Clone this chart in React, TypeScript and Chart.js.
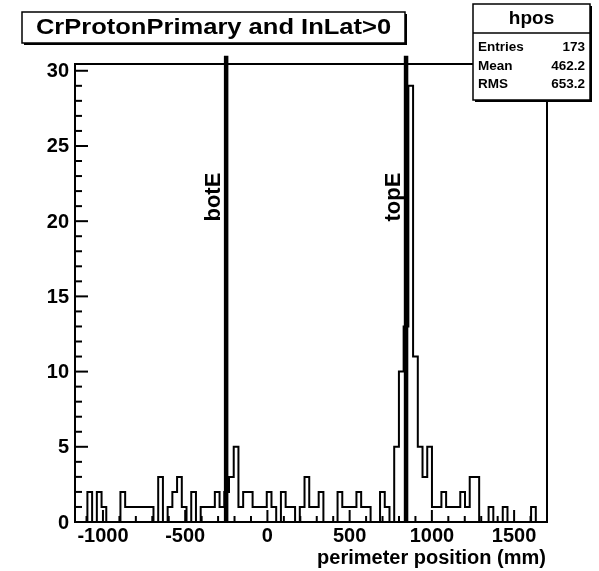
import { useEffect, useRef } from 'react';
import { Chart, registerables } from 'chart.js';

Chart.register(...registerables);

// Visible perimeter range of the axis (mm)
const X_MIN = -1170;
const X_MAX = 1700;
// Histogram "hpos": 100 equal bins
const HIST_MIN = -1152;
const HIST_MAX = 1718;
const BIN_COUNTS = [
  0, 0, 0, 2, 0, 2, 1, 0, 0, 0,
  2, 1, 1, 1, 1, 1, 1, 0, 3, 0,
  1, 2, 3, 1, 0, 2, 0, 1, 1, 1,
  2, 1, 2, 3, 5, 1, 2, 2, 1, 1,
  1, 2, 1, 0, 2, 1, 1, 0, 1, 3,
  1, 1, 2, 0, 0, 0, 2, 1, 1, 1,
  2, 1, 1, 0, 0, 2, 1, 0, 5, 10,
  13, 29, 11, 5, 3, 5, 1, 1, 2, 1,
  1, 1, 2, 1, 3, 3, 0, 0, 1, 0,
  0, 1, 0, 0, 0, 0, 0, 1, 0, 0,
];
const Y_MAX = 30.45;

const X_MAJOR_TICKS = [-1000, -500, 0, 500, 1000, 1500];
const X_MINOR_STEP = 100;
const Y_MAJOR_TICKS = [0, 5, 10, 15, 20, 25, 30];
const Y_MINOR_STEP = 1;

// Vertical reference lines (position in mm), drawn from 0 up to MARKER_TOP
const MARKER_NAMES = ['botE', 'topE'];
const MARKER_POSITIONS = [-251, 843];
const MARKER_TOP = 31;

const TITLE = 'CrProtonPrimary and InLat>0';
const X_TITLE = 'perimeter position (mm)';
const STATS_NAME = 'hpos';
const STATS_LABELS = ['Entries', 'Mean', 'RMS'];
const STATS_VALUES = ['173', '462.2', '653.2'];

const FONT = '"Liberation Sans", Arial, Helvetica, sans-serif';

function histogramPoints() {
  const n = BIN_COUNTS.length;
  const w = (HIST_MAX - HIST_MIN) / n;
  const pts: { x: number; y: number }[] = [{ x: HIST_MIN, y: 0 }];
  BIN_COUNTS.forEach((c, i) => pts.push({ x: HIST_MIN + i * w, y: c }));
  pts.push({ x: HIST_MAX, y: BIN_COUNTS[n - 1] });
  pts.push({ x: HIST_MAX, y: 0 });
  return pts;
}

function text(
  ctx: CanvasRenderingContext2D,
  s: string,
  x: number,
  y: number,
  size: number,
  align: CanvasTextAlign,
  stretch = 1,
) {
  ctx.save();
  ctx.translate(x, y);
  ctx.scale(stretch, 1);
  ctx.font = `bold ${size}px ${FONT}`;
  ctx.textAlign = align;
  ctx.textBaseline = 'middle';
  ctx.fillStyle = '#000';
  ctx.fillText(s, 0, 0);
  ctx.restore();
}

function shadowBox(ctx: CanvasRenderingContext2D, x: number, y: number, w: number, h: number) {
  ctx.fillStyle = '#000';
  ctx.fillRect(x + 2, y + 2, w, h);
  ctx.fillStyle = '#fff';
  ctx.fillRect(x, y, w, h);
  ctx.strokeStyle = '#000';
  ctx.lineWidth = 1.5;
  ctx.strokeRect(x, y, w, h);
}

const rootFramePlugin = {
  id: 'rootFrame',
  afterDatasetsDraw(chart: Chart) {
    const ctx = chart.ctx;
    const { left, right, top, bottom } = chart.chartArea;
    const xs = chart.scales.x;
    const ys = chart.scales.y;
    ctx.save();

    // reference lines and their labels
    MARKER_POSITIONS.forEach((pos, i) => {
      const px = xs.getPixelForValue(pos);
      ctx.strokeStyle = '#000';
      ctx.lineWidth = 4.5;
      ctx.beginPath();
      ctx.moveTo(px, ys.getPixelForValue(0));
      ctx.lineTo(px, ys.getPixelForValue(MARKER_TOP));
      ctx.stroke();
      ctx.save();
      ctx.translate(px - 6.5, ys.getPixelForValue(21.6));
      ctx.rotate(-Math.PI / 2);
      ctx.font = `bold 22px ${FONT}`;
      ctx.textAlign = 'center';
      ctx.textBaseline = 'alphabetic';
      ctx.fillStyle = '#000';
      ctx.fillText(MARKER_NAMES[i], 0, 0);
      ctx.restore();
    });

    // frame
    ctx.strokeStyle = '#000';
    ctx.lineWidth = 2;
    ctx.strokeRect(left, top, right - left, bottom - top);

    // y axis ticks and labels
    for (let v = 0; v <= Y_MAX; v += Y_MINOR_STEP) {
      const py = ys.getPixelForValue(v);
      const major = Y_MAJOR_TICKS.includes(v);
      ctx.beginPath();
      ctx.moveTo(left, py);
      ctx.lineTo(left + (major ? 13 : 7), py);
      ctx.stroke();
    }
    Y_MAJOR_TICKS.forEach((v) => {
      text(ctx, String(v), left - 6, ys.getPixelForValue(v) + 1, 20, 'right');
    });

    // x axis ticks and labels
    const start = Math.ceil(X_MIN / X_MINOR_STEP) * X_MINOR_STEP;
    for (let v = start; v <= X_MAX; v += X_MINOR_STEP) {
      const px = xs.getPixelForValue(v);
      const major = X_MAJOR_TICKS.includes(v);
      ctx.beginPath();
      ctx.moveTo(px, bottom);
      ctx.lineTo(px, bottom - (major ? 12 : 6));
      ctx.stroke();
    }
    X_MAJOR_TICKS.forEach((v) => {
      text(ctx, String(v), xs.getPixelForValue(v), bottom + 14, 20, 'center');
    });
    text(ctx, X_TITLE, right - 1, bottom + 36, 20, 'right');
    ctx.restore();
  },
  afterDraw(chart: Chart) {
    const ctx = chart.ctx;
    ctx.save();
    // title box
    shadowBox(ctx, 22, 12, 383, 31);
    text(ctx, TITLE, 213.5, 28, 22, 'center', 1.16);

    // statistics box
    shadowBox(ctx, 473, 4, 117, 96);
    ctx.beginPath();
    ctx.moveTo(473, 33);
    ctx.lineTo(590, 33);
    ctx.stroke();
    text(ctx, STATS_NAME, 531.5, 19, 19, 'center');
    STATS_LABELS.forEach((lab, i) => {
      const y = 47.5 + i * 18.5;
      text(ctx, lab, 478, y, 13.5, 'left');
      text(ctx, STATS_VALUES[i], 585, y, 13.5, 'right');
    });
    ctx.restore();
  },
};

export default function App() {
  const canvasRef = useRef<HTMLCanvasElement | null>(null);

  useEffect(() => {
    const canvas = canvasRef.current;
    if (!canvas) return;
    const chart = new Chart(canvas, {
      type: 'line',
      data: {
        datasets: [
          {
            data: histogramPoints(),
            stepped: 'after',
            borderColor: '#000',
            borderWidth: 2,
            pointRadius: 0,
            fill: false,
          },
        ],
      },
      options: {
        animation: false,
        responsive: false,
        events: [],
        layout: { padding: { left: 75, top: 64, right: 52, bottom: 49 } },
        scales: {
          x: { type: 'linear', min: X_MIN, max: X_MAX, display: false },
          y: { type: 'linear', min: 0, max: Y_MAX, display: false },
        },
        plugins: {
          legend: { display: false },
          tooltip: { enabled: false },
        },
      },
      plugins: [rootFramePlugin],
    });
    return () => chart.destroy();
  }, []);

  return (
    <div style={{ position: 'fixed', left: 0, top: 0, width: 599, height: 571, background: '#fff' }}>
      <canvas ref={canvasRef} width={599} height={571} style={{ width: 599, height: 571 }} />
    </div>
  );
}
